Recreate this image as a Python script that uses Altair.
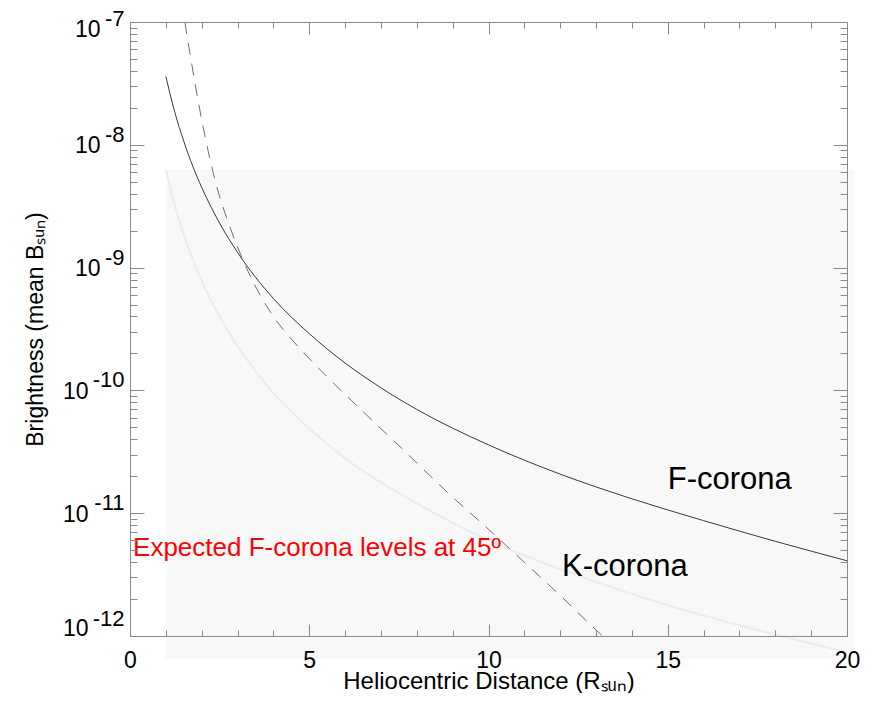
import altair as alt
import pandas as pd

# ---- data ----
# F-corona (solid line)
f_r = [1.0, 1.25, 1.5, 1.75, 2.0, 2.5, 3.0, 4.0, 5.0, 6.0, 7.0, 8.0, 10.0, 12.0, 14.0, 16.0, 18.0, 20.0]
f_b = [3.6e-8, 1.84e-8, 1.07e-8, 6.7e-9, 4.5e-9, 2.3e-9, 1.33e-9, 5.6e-10, 2.9e-10, 1.67e-10,
       1.05e-10, 7.0e-11, 3.6e-11, 2.08e-11, 1.31e-11, 8.7e-12, 5.9e-12, 4.1e-12]

# K-corona (dashed line)
k_r = [1.53, 1.67, 2.0, 2.4, 2.8, 3.2, 3.6, 4.0, 4.6, 5.5, 6.6, 7.5, 9.0, 10.0, 11.0, 12.0, 13.0, 13.3]
k_b = [1.0e-7, 5.6e-8, 1.6e-8, 4.8e-9, 2.09e-9, 1.07e-9, 6.2e-10, 4.0e-10, 2.43e-10, 1.29e-10,
       6.3e-11, 3.55e-11, 1.35e-11, 7.4e-12, 3.98e-12, 2.14e-12, 1.12e-12, 9.3e-13]

# faint curve (expected F-corona levels at 45 deg)
g_r = [1.0, 1.25, 1.5, 2.0, 2.5, 3.0, 4.0, 5.0, 6.0, 8.0, 10.0, 12.5, 15.0, 17.5, 20.0]
g_b = [6.3e-9, 3.2e-9, 1.86e-9, 7.8e-10, 4.0e-10, 2.3e-10, 9.5e-11, 4.9e-11, 2.8e-11, 1.2e-11,
       6.0e-12, 3.1e-12, 1.78e-12, 1.12e-12, 7.4e-13]

# shaded region
shade_x = [1.0, 20.2]
shade_y = [6.3e-9, 6.5e-13]

# annotations
ann_text = ["F-corona", "K-corona", "Expected F-corona levels at 45º"]
ann_x = [15.0, 12.05, 0.085]
ann_y = [1.57e-11, 3.08e-12, 4.5e-12]

# axis tick values
x_major = [0, 5, 10, 15, 20]
x_all = list(range(0, 21))
y_major = [1e-12, 1e-11, 1e-10, 1e-9, 1e-8, 1e-7]
y_all = [m * 10.0 ** e for e in range(-12, -7) for m in range(1, 10)] + [1e-7]

# ---- chart ----
W, H = 717, 614
FONT = "Liberation Sans"
GREY = "#8a8a8a"

xs = alt.Scale(domain=[0, 20], nice=False, zero=False)
ys = alt.Scale(type="log", domain=[1e-12, 1e-7], nice=False)

fdf = pd.DataFrame({"r": f_r, "b": f_b})
kdf = pd.DataFrame({"r": k_r, "b": k_b})
gdf = pd.DataFrame({"r": g_r, "b": g_b})
sdf = pd.DataFrame({"x1": [shade_x[0]], "x2": [shade_x[1]], "y1": [shade_y[0]], "y2": [shade_y[1]]})
adf = pd.DataFrame({"t": ann_text, "x": ann_x, "y": ann_y})

shade = alt.Chart(sdf).mark_rect(color="#f8f8f8", clip=False).encode(
    x=alt.X("x1:Q", scale=xs, axis=None), x2="x2:Q",
    y=alt.Y("y1:Q", scale=ys, axis=None), y2="y2:Q")

faint = alt.Chart(gdf).mark_line(color="#ececec", strokeWidth=2, interpolate="monotone", clip=False).encode(
    x=alt.X("r:Q", scale=xs, axis=None), y=alt.Y("b:Q", scale=ys, axis=None))

solid = alt.Chart(fdf).mark_line(color="#3a3a3a", strokeWidth=1, interpolate="monotone", clip=True).encode(
    x=alt.X("r:Q", scale=xs, axis=None), y=alt.Y("b:Q", scale=ys, axis=None))

dashed = alt.Chart(kdf).mark_line(color="#6e6e6e", strokeWidth=1, strokeDash=[12, 9],
                                  interpolate="monotone", clip=True).encode(
    x=alt.X("r:Q", scale=xs, axis=None), y=alt.Y("b:Q", scale=ys, axis=None))

def text_layer(i, size, color):
    return alt.Chart(adf.iloc[[i]]).mark_text(
        font=FONT, fontSize=size, color=color, align="left", baseline="alphabetic"
    ).encode(x=alt.X("x:Q", scale=xs, axis=None), y=alt.Y("y:Q", scale=ys, axis=None), text="t:N")

t_f = text_layer(0, 31, "black")
t_k = text_layer(1, 31, "black")
t_e = text_layer(2, 26, "#ff0000")

is_decade = "abs(log(datum.value)/LN10 - round(log(datum.value)/LN10)) < 0.001"
is_five = "datum.value % 5 == 0"

ax_ylab = alt.Axis(
    orient="left", values=y_major, labelExpr="'10'", ticks=False, tickSize=0, domain=False, grid=False,
    labelFont=FONT, labelFontSize=23, labelColor="black", labelAlign="right", labelBaseline="alphabetic",
    labelPadding={"condition": {"test": "datum.value < 5e-10", "value": 42}, "value": 30},
    labelOffset={"condition": [{"test": "datum.value > 5e-8", "value": 14},
                               {"test": "datum.value < 2e-12", "value": -1}], "value": 8},
    labelOverlap=False, labelBound=False, labelFlush=False,
    title="Brightness (mean Bₛᵤₙ)", titleFont=FONT, titleFontSize=23, titleFontWeight="normal",
    titleColor="black", titleX=-88, titleY=H / 2, titleAngle=-90, titleBaseline="alphabetic",
    titleAlign="center", zindex=1)

ax_yexp = alt.Axis(
    orient="left", values=y_major, labelExpr="'-' + round(-log(datum.value)/LN10)",
    ticks=False, tickSize=0, domain=False, grid=False,
    labelFont=FONT, labelFontSize=22, labelColor="black", labelAlign="right", labelBaseline="alphabetic",
    labelPadding=6,
    labelOffset={"condition": [{"test": "datum.value > 5e-8", "value": 3},
                               {"test": "datum.value < 2e-12", "value": -11}], "value": -3.5},
    labelOverlap=False, labelBound=False, labelFlush=False, title=None, zindex=1)

def yticks(orient):
    return alt.Axis(orient=orient, offset=-W, values=y_all, labels=False, ticks=True,
                    tickSize={"condition": {"test": is_decade, "value": 14}, "value": 7},
                    tickColor=GREY, tickWidth=1, domain=True, domainColor=GREY, domainWidth=1,
                    grid=False, title=None, zindex=1)

def xticks(orient):
    return alt.Axis(orient=orient, offset=-H, values=x_all, labels=False, ticks=True,
                    tickSize={"condition": {"test": is_five, "value": 12}, "value": 6},
                    tickColor=GREY, tickWidth=1, domain=True, domainColor=GREY, domainWidth=1,
                    grid=False, title=None, zindex=1)

ax_xlab = alt.Axis(
    orient="bottom", values=x_major, format="d", ticks=False, tickSize=0, domain=False, grid=False,
    labelFont=FONT, labelFontSize=23, labelColor="black", labelPadding=31, labelBaseline="alphabetic",
    labelFlush=False, labelOverlap=False, labelBound=False,
    title="Heliocentric Distance (Rₛᵤₙ)", titleFont=FONT, titleFontSize=24, titleFontWeight="normal",
    titleColor="black", titleY=52, titleBaseline="alphabetic", zindex=1)

def axis_layer(xa, ya):
    return alt.Chart(fdf).mark_point(opacity=0).encode(
        x=alt.X("r:Q", scale=xs, axis=xa), y=alt.Y("b:Q", scale=ys, axis=ya))

axes = [
    axis_layer(ax_xlab, ax_ylab),
    axis_layer(xticks("top"), yticks("right")),      # inward ticks at bottom / left
    axis_layer(xticks("bottom"), yticks("left")),    # inward ticks at top / right
    axis_layer(None, ax_yexp),
]

chart = alt.layer(shade, faint, solid, dashed, t_f, t_k, t_e, *axes).resolve_axis(
    x="independent", y="independent"
).properties(
    width=W, height=H,
    autosize=alt.AutoSizeParams(type="none"),
    padding={"left": 122, "top": 14, "right": 17, "bottom": 57},
    background="white",
).configure_view(stroke=None)

chart.save("out.html", embed_options={"renderer": "svg", "actions": False})
